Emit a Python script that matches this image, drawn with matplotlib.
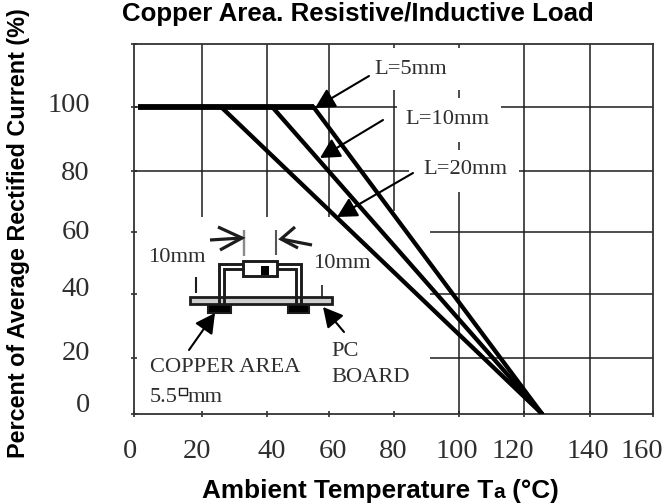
import numpy as np
import matplotlib
matplotlib.use("Agg")
import matplotlib.pyplot as plt
from matplotlib.patches import Rectangle
from matplotlib.transforms import Affine2D

W, H = 665, 504
title = "Copper Area. Resistive/Inductive Load"
ylabel = "Percent of Average Rectified Current (%)"
xlabel_parts = [("Ambient Temperature T", 18.8), ("a", 15), (" (°C)", 18.8)]

x_ticks = [0, 20, 40, 60, 80, 100, 120, 140, 160]
y_ticks = [0, 20, 40, 60, 80, 100, 120]
y_tick_labels = ["0", "20", "40", "60", "80", "100"]
x_tick_labels = ["0", "20", "40", "60", "80", "100", "120", "140", "160"]

# the printed axis is not perfectly even: pixel position of each tick
x_pix = [134.3, 201.5, 267, 329, 394, 459, 524, 590, 653]
y_pix = [414, 358, 294, 232, 171, 107, 44]

# derating curves: temperature, percent
temp_5mm = [55, 125.5]
temp_10mm = [41.7, 125.5]
temp_20mm = [26, 125.5]
pct_slope = [100, 0]
temp_flat = [1, 55]
pct_flat = [100, 100]

# grid pieces that survive around the annotations
v_grid = [
    (20, 65, 120), (40, 65, 120), (60, 65, 120),
    (80, 67, 105.3), (80, 118.7, 120),
    (100, 0, 73), (100, 86.5, 89), (100, 102.8, 105.3), (100, 118.7, 120),
    (120, 0, 120), (140, 0, 120),
]
h_grid = [
    (100, 0, 81), (100, 113, 160), (80, 0, 84.5), (80, 118.5, 160),
    (60, 91, 160), (40, 91, 160), (20, 91, 160),
]

ink = "#1c1c1c"
txt = "#2e2e2e"
serif = "Liberation Serif"
sans = "Liberation Sans"

fig = plt.figure(figsize=(W / 100, H / 100), dpi=100, facecolor="white")
L, R, T, B = x_pix[0], x_pix[-1], y_pix[-1], y_pix[0]
ax = fig.add_axes([L / W, 1 - B / H, (R - L) / W, (B - T) / H])

x_frac = (np.array(x_pix) - L) / (R - L) * 160
y_frac = (B - np.array(y_pix)) / (B - T) * 120
ax.set_xscale("function", functions=(
    lambda v: np.interp(v, x_ticks, x_frac), lambda v: np.interp(v, x_frac, x_ticks)))
ax.set_yscale("function", functions=(
    lambda v: np.interp(v, y_ticks, y_frac), lambda v: np.interp(v, y_frac, y_ticks)))
ax.set_xlim(0, 160)
ax.set_ylim(0, 120)
ax.set_xticks(x_ticks)
ax.set_yticks(y_ticks)
ax.xaxis.set_minor_locator(matplotlib.ticker.NullLocator())
ax.yaxis.set_minor_locator(matplotlib.ticker.NullLocator())
ax.set_xticklabels([])
ax.set_yticklabels([])
ax.tick_params(direction="inout", length=4, width=1.1, color=ink)
for s in ax.spines.values():
    s.set_linewidth(1.3)
    s.set_color("#333333")

for xv, y0, y1 in v_grid:
    ax.plot([xv, xv], [y0, y1], color=ink, lw=1.1, solid_capstyle="butt", zorder=2)
for yv, x0, x1 in h_grid:
    ax.plot([x0, x1], [yv, yv], color=ink, lw=1.1, solid_capstyle="butt", zorder=2)

for temps in (temp_5mm, temp_10mm, temp_20mm):
    ax.plot(temps, pct_slope, color="black", lw=3.1, solid_capstyle="round", zorder=3)
ax.plot(temp_flat, pct_flat, color="black", lw=4.2, solid_capstyle="butt", zorder=3)

# tick labels, with the offsets of the printed original
x_lab_dx = [-4, -4.5, 5, 4, -1, -2, -11, -2, -11]
y_lab_dy = [9, 5, 4, -1, -2, 1]
for lab, v, dx in zip(x_tick_labels, x_ticks, x_lab_dx):
    ax.annotate(lab, (v, 0), xytext=(dx, -37), textcoords="offset pixels", ha="center",
                va="center", fontsize=20.5, family=serif, color=txt)
for lab, v, dy in zip(y_tick_labels, y_ticks, y_lab_dy):
    ax.annotate(lab, (0, v), xytext=(90 - L, dy), textcoords="offset pixels", ha="right",
                va="center", fontsize=20.5, family=serif, color=txt)

# everything below is placed in reference pixels
px = Affine2D().scale(1, -1).translate(0, H)


def label(x, y, s, **kw):
    kw.setdefault("ha", "left")
    kw.setdefault("fontsize", 16.2)
    kw.setdefault("family", serif)
    kw.setdefault("color", txt)
    fig.text(x, y, s, transform=px, va="center", **kw)


def seg(xs, ys, lw=1.5, color=ink, z=6):
    ax.plot(xs, ys, transform=px, color=color, lw=lw, clip_on=False, zorder=z,
            solid_capstyle="butt", solid_joinstyle="miter")


def box(x0, y0, x1, y1, fc, lw=1.5, z=6):
    ax.add_patch(Rectangle((x0, y0), x1 - x0, y1 - y0, transform=px, fc=fc, ec=ink, lw=lw,
                           clip_on=False, zorder=z))


def arrow(tail, tip, scale=20):
    ax.annotate("", xy=tip, xytext=tail, xycoords=px, textcoords=px, zorder=7,
                arrowprops=dict(arrowstyle="-|>,head_length=0.6,head_width=0.32", color="black",
                                lw=1.5, shrinkA=0, shrinkB=0, mutation_scale=scale))


label(122, 14, title, fontsize=18.6, family=sans, fontweight="bold", color="black")
fig.text(19, 233, ylabel, transform=px, rotation=90, ha="center", va="center",
         fontsize=16.8, family=sans, fontweight="bold", color="black")
r = fig.canvas.get_renderer()
xp = 202
for part, size in xlabel_parts:
    t = fig.text(xp, 498, part, transform=px, ha="left", va="baseline", fontsize=size,
                 family=sans, fontweight="bold", color="black")
    xp += t.get_window_extent(r).width

label(374, 69, "L=5mm")
label(405, 119, "L=10mm")
label(423, 170, "L=20mm")
arrow((369, 76), (315, 108))
arrow((383, 120), (320, 158))
arrow((413, 173), (337, 217))

# mounting sketch
box(190, 297, 332, 304, "#cfcfcf", lw=2)
box(208, 304, 231, 313, "black", z=5)
box(288, 304, 309, 313, "black", z=5)
seg([219, 219, 301, 301], [304, 264, 264, 304], lw=2.1)
seg([224, 224, 296, 296], [304, 269, 269, 304], lw=2.1)
box(243, 261, 277, 276, "white", lw=2.1, z=7)
box(261, 266, 269, 275, "black", lw=0, z=8)
seg([244, 244], [230, 256], color="#8a8a8a", lw=1.7)
seg([276, 276], [230, 255], color="#555555")
seg([210, 242], [240, 238], lw=2.3)
seg([218, 242, 220], [227, 238, 250], lw=2.3)
seg([312, 281], [245, 239], lw=2.3)
seg([295, 281, 298], [227, 239, 248], lw=2.3)
seg([196, 196], [277, 293], lw=1.5)
seg([322, 322], [285, 297], lw=1.2)
label(148, 257, "10mm")
label(313, 263, "10mm")
arrow((189, 350), (215, 313))
arrow((344, 332), (323, 307))
label(150, 367, "COPPER AREA")
label(150, 397, "5.5")
box(179, 388, 187, 395, "white", lw=1)
label(188, 398, "mm")
label(331, 351, "PC")
label(331, 377, "BOARD")

fig.savefig("out.png", dpi=100)
